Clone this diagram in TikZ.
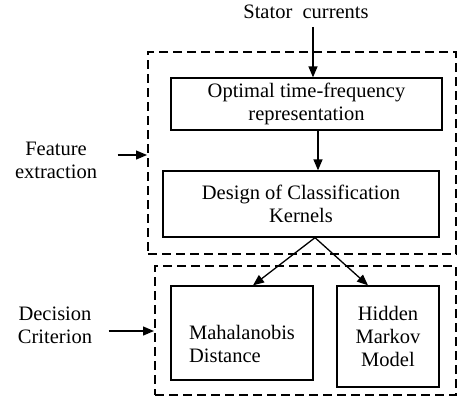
\documentclass[tikz,border=0pt]{standalone}
\usepackage{fontspec}
\setmainfont{Liberation Serif}
\usetikzlibrary{arrows.meta,positioning}

\begin{document}
\begin{tikzpicture}[x=1pt, y=-1pt, font=\fontsize{20.5}{23}\selectfont,
  block/.style={draw, line width=1.3pt, align=center, inner sep=0pt},
  group/.style={draw, line width=2pt, dash pattern=on 9pt off 5pt},
  label/.style={align=center, inner sep=0pt},
  >={Triangle[length=11pt,width=9pt]}, line width=1.3pt]
\useasboundingbox (0,0) rectangle (457,400);

% dashed regions
\node[group, minimum width=308, minimum height=202] (feature) at (302,153) {};
\node[group, minimum width=301, minimum height=129] (decision) at (305.5,330.5) {};

% blocks
\node[block, minimum width=271, minimum height=52] (tfr) at (306.5,104) {Optimal time-frequency\\representation};
\node[block, minimum width=276, minimum height=66] (kernels) at (301,204) {Design of Classification\\Kernels};
\node[block, minimum width=142, minimum height=94] (mahal) at (242,333) {};
\node[label, align=left] (mahaltext) at (242,344) {Mahalanobis\\Distance};
\node[block, minimum width=102, minimum height=101] (hmm) at (388,336.5) {Hidden\\Markov\\Model};

% labels
\node[label, anchor=base] (stator) at (306,18) {Stator~~currents};
\node[label] (featlabel) at (56,160) {Feature\\extraction};
\node[label] (declabel) at (55,325) {Decision\\Criterion};

% connectors
\draw[->] (stator.south -| 313,0) ++(0,8) -- (tfr.north -| 313,0);
\draw[->] (tfr.south -| 318,0) -- (kernels.north -| 318,0);
\draw[->] ([xshift=14]kernels.south) -- ([xshift=11]mahal.north);
\draw[->] ([xshift=14]kernels.south) -- ([xshift=-20]hmm.north);
\draw[->] (featlabel.east |- 0,155) ++(20,0) -- (feature.west |- 0,155);
\draw[->] (declabel.east |- 0,331) ++(16,0) -- (decision.west |- 0,331);
\end{tikzpicture}
\end{document}
